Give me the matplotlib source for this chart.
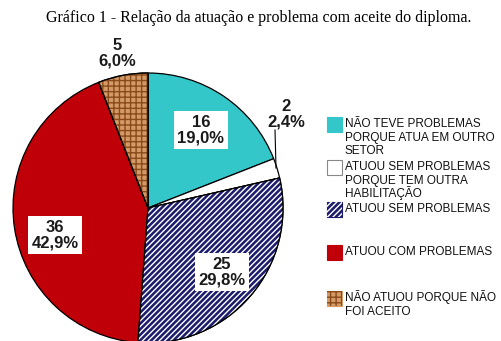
import matplotlib
matplotlib.use("Agg")
import matplotlib.pyplot as plt
from matplotlib.patches import Wedge, Rectangle

title = "Gráfico 1 - Relação da atuação e problema com aceite do diploma."
categories = [
    "NÃO TEVE PROBLEMAS\nPORQUE ATUA EM OUTRO\nSETOR",
    "ATUOU SEM PROBLEMAS\nPORQUE TEM OUTRA\nHABILITAÇÃO",
    "ATUOU SEM PROBLEMAS",
    "ATUOU COM PROBLEMAS",
    "NÃO ATUOU PORQUE NÃO\nFOI ACEITO",
]
counts = [16, 2, 25, 36, 5]
percents = ["19,0%", "2,4%", "29,8%", "42,9%", "6,0%"]

colors = ["#33c7c9", "#ffffff", "#1c1c6c", "#c00008", "#d39a66"]
hatches = [None, None, "//////", None, "+++"]
hatch_colors = [None, None, "#ffffff", None, "#8a4a1c"]

W, H = 502, 341
fig = plt.figure(figsize=(W / 100, H / 100), dpi=100)
ax = fig.add_axes([0, 0, 1, 1])

def Y(y):
    return H - y

cx, cy, r = 148, Y(208), 135
wedges, _ = ax.pie(counts, colors=colors, startangle=90, counterclock=False,
                   center=(cx, cy), radius=r, frame=True,
                   wedgeprops=dict(edgecolor="black", linewidth=0.9))
ax.set_xlim(0, W)
ax.set_ylim(0, H)
ax.set_aspect("equal")
ax.axis("off")

plt.rcParams["hatch.linewidth"] = 1.0
for w, h, hc in zip(wedges, hatches, hatch_colors):
    if h:
        hw = Wedge(w.center, w.r, w.theta1, w.theta2, facecolor="none",
                   edgecolor=hc, hatch=h, linewidth=0, zorder=w.get_zorder() + 0.1)
        ax.add_patch(hw)
        ow = Wedge(w.center, w.r, w.theta1, w.theta2, facecolor="none",
                   edgecolor="black", linewidth=0.9, zorder=w.get_zorder() + 0.2)
        ax.add_patch(ow)

# data labels
label_pos = [(201, 130, True), (286, 114, False), (222, 272, True),
             (55, 235, True), (117, 53, False)]
for (x, y, boxed), c, p in zip(label_pos, counts, percents):
    kw = dict(ha="center", va="center", fontsize=12, fontweight="bold",
              family="Liberation Sans", linespacing=1.05, zorder=10,
              color="#1a1a1a")
    if boxed:
        kw["bbox"] = dict(boxstyle="square,pad=0.2", facecolor="white",
                          edgecolor="none")
    ax.text(x, Y(y), f"{c}\n{p}", **kw)

# leader line for small slice
ax.plot([275, 276], [Y(130), Y(168)], color="black", linewidth=0.8, zorder=9)

# title
ax.text(259, Y(18), title, ha="center", va="center", fontsize=11.5,
        family="Liberation Serif")

# legend
leg_top = [117, 160, 202, 245, 291]
fs = 8.5
cap_half = fs * 100 / 72 * 0.72 / 2
for yy, col, h, hc, lab in zip(leg_top, colors, hatches, hatch_colors, categories):
    ax.add_patch(Rectangle((327, Y(yy + 15)), 15, 15, facecolor=col,
                           edgecolor="#888888" if col == "#ffffff" else col,
                           linewidth=0.8))
    if h:
        ax.add_patch(Rectangle((327, Y(yy + 15)), 15, 15, facecolor="none",
                               edgecolor=hc, hatch=h, linewidth=0))
    for i, line in enumerate(lab.split("\n")):
        yc = yy + 6 + i * 13.5
        ax.text(345, Y(yc + cap_half), line, ha="left", va="baseline",
                fontsize=fs, family="Liberation Sans", color="#111111")

fig.savefig("out.png", dpi=100)
